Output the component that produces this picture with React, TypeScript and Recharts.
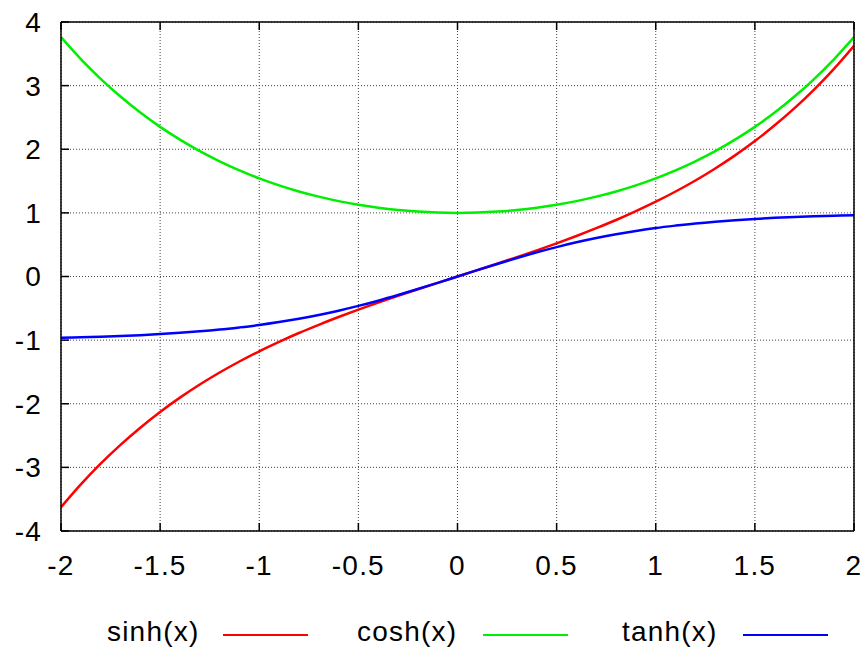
import { LineChart, Line, XAxis, YAxis, CartesianGrid, Legend } from 'recharts';

// sample positions along x
const xValues = [
    -2, -1.9, -1.8, -1.7, -1.6, -1.5, -1.4, -1.3, -1.2, -1.1, -1,
    -0.9, -0.8, -0.7, -0.6, -0.5, -0.4, -0.3, -0.2, -0.1, 0,
    0.1, 0.2, 0.3, 0.4, 0.5, 0.6, 0.7, 0.8, 0.9, 1,
    1.1, 1.2, 1.3, 1.4, 1.5, 1.6, 1.7, 1.8, 1.9, 2,
];

const sinhValues = [
    -3.627, -3.268, -2.942, -2.646, -2.376, -2.129, -1.904, -1.698, -1.509, -1.336, -1.175,
    -1.027, -0.888, -0.759, -0.637, -0.521, -0.411, -0.305, -0.201, -0.1, 0,
    0.1, 0.201, 0.305, 0.411, 0.521, 0.637, 0.759, 0.888, 1.027, 1.175,
    1.336, 1.509, 1.698, 1.904, 2.129, 2.376, 2.646, 2.942, 3.268, 3.627,
];

const coshValues = [
    3.762, 3.418, 3.107, 2.828, 2.577, 2.352, 2.151, 1.971, 1.811, 1.669, 1.543,
    1.433, 1.337, 1.255, 1.185, 1.128, 1.081, 1.045, 1.02, 1.005, 1,
    1.005, 1.02, 1.045, 1.081, 1.128, 1.185, 1.255, 1.337, 1.433, 1.543,
    1.669, 1.811, 1.971, 2.151, 2.352, 2.577, 2.828, 3.107, 3.418, 3.762,
];

const tanhValues = [
    -0.964, -0.956, -0.947, -0.935, -0.922, -0.905, -0.885, -0.862, -0.834, -0.8, -0.762,
    -0.716, -0.664, -0.604, -0.537, -0.462, -0.38, -0.291, -0.197, -0.1, 0,
    0.1, 0.197, 0.291, 0.38, 0.462, 0.537, 0.604, 0.664, 0.716, 0.762,
    0.8, 0.834, 0.862, 0.885, 0.905, 0.922, 0.935, 0.947, 0.956, 0.964,
];

const xTicks = [-2, -1.5, -1, -0.5, 0, 0.5, 1, 1.5, 2];
const yTicks = [-4, -3, -2, -1, 0, 1, 2, 3, 4];

const seriesNames = ['sinh(x)', 'cosh(x)', 'tanh(x)'];
const seriesColors = ['#ff0000', '#00ee00', '#0000ff'];

const data = xValues.map((x, i) => ({
    x,
    sinh: sinhValues[i],
    cosh: coshValues[i],
    tanh: tanhValues[i],
}));

const FONT = '"Liberation Sans", Arial, Helvetica, sans-serif';
const tickStyle = { fontSize: 28, fill: '#000', fontFamily: FONT, letterSpacing: 1.2 };
const axisStroke = { stroke: '#000', strokeWidth: 1.5 };

// legend entries: label then a short line sample, laid out left to right
const legendPos = [
    { text: 107, line: 223 },
    { text: 357, line: 483 },
    { text: 622, line: 743 },
];

function KeyBox() {
    return (
        <div style={{ position: 'relative', width: 868, height: 40, fontFamily: FONT }}>
            {seriesNames.map((name, i) => (
                <div key={name}>
                    <span
                        style={{
                            position: 'absolute',
                            left: legendPos[i].text,
                            top: 2,
                            fontSize: 28,
                            letterSpacing: 1.2,
                            lineHeight: '32px',
                            color: '#000',
                        }}
                    >
                        {name}
                    </span>
                    <div
                        style={{
                            position: 'absolute',
                            left: legendPos[i].line,
                            top: 20,
                            width: 85,
                            height: 2,
                            background: seriesColors[i],
                        }}
                    />
                </div>
            ))}
        </div>
    );
}

export default function App() {
    return (
        <div style={{ position: 'absolute', left: 0, top: 0, background: '#fff' }}>
            <LineChart width={868} height={654} data={data} margin={{ top: 0, right: 0, bottom: 0, left: 0 }}>
                <CartesianGrid stroke="#444" strokeDasharray="1 2" />
                <XAxis
                    dataKey="x"
                    type="number"
                    domain={[-2, 2]}
                    ticks={xTicks}
                    interval={0}
                    height={83}
                    tickSize={-8}
                    tickMargin={32}
                    tick={tickStyle}
                    axisLine={axisStroke}
                    tickLine={axisStroke}
                    allowDataOverflow
                />
                <XAxis
                    xAxisId="top"
                    orientation="top"
                    dataKey="x"
                    type="number"
                    domain={[-2, 2]}
                    ticks={xTicks}
                    interval={0}
                    height={22}
                    tickSize={-8}
                    tickFormatter={() => ''}
                    axisLine={axisStroke}
                    tickLine={axisStroke}
                />
                <YAxis
                    type="number"
                    domain={[-4, 4]}
                    ticks={yTicks}
                    interval={0}
                    width={61}
                    tickSize={-8}
                    tickMargin={27}
                    tick={tickStyle}
                    axisLine={axisStroke}
                    tickLine={axisStroke}
                    allowDataOverflow
                />
                <YAxis
                    yAxisId="right"
                    orientation="right"
                    type="number"
                    domain={[-4, 4]}
                    ticks={yTicks}
                    interval={0}
                    width={14}
                    tickSize={-8}
                    tickFormatter={() => ''}
                    axisLine={axisStroke}
                    tickLine={axisStroke}
                />
                <Legend verticalAlign="bottom" content={() => <KeyBox />} wrapperStyle={{ left: 0, bottom: 0, width: 868 }} />
                <Line type="monotone" dataKey="sinh" name="sinh(x)" stroke={seriesColors[0]} strokeWidth={2.5} dot={false} isAnimationActive={false} />
                <Line type="monotone" dataKey="cosh" name="cosh(x)" stroke={seriesColors[1]} strokeWidth={2.5} dot={false} isAnimationActive={false} />
                <Line type="monotone" dataKey="tanh" name="tanh(x)" stroke={seriesColors[2]} strokeWidth={2.5} dot={false} isAnimationActive={false} />
            </LineChart>
        </div>
    );
}
